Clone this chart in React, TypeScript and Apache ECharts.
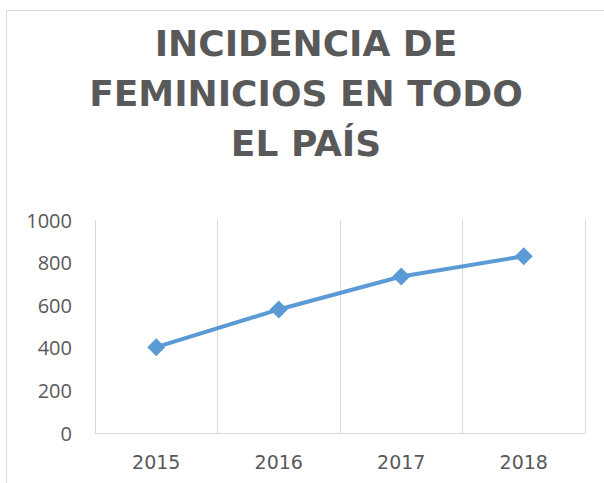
import React, { useEffect, useRef } from "react";
import * as echarts from "echarts";

const titleLines = ["INCIDENCIA DE", "FEMINICIOS EN TODO", "EL PAÍS"];
const categories = ["2015", "2016", "2017", "2018"];
const values = [403, 580, 735, 830];
const yTicks = { min: 0, max: 1000, interval: 200 };

export default function App() {
  const ref = useRef<HTMLDivElement>(null);
  useEffect(() => {
    document.body.style.margin = "0";
    const chart = echarts.init(ref.current!, undefined, { renderer: "svg" });
    chart.setOption({
      animation: false,
      backgroundColor: "#ffffff",
      title: {
        text: titleLines.join("\n"),
        left: 301,
        top: 13,
        textAlign: "center",
        textStyle: {
          fontFamily: "DejaVu Sans",
          fontWeight: "bold",
          fontSize: 36,
          lineHeight: 50,
          color: "#595959",
        },
      },
      graphic: [
        {
          type: "rect",
          shape: { x: 6.5, y: 10.5, width: 800, height: 800 },
          style: { fill: "none", stroke: "#d9d9d9", lineWidth: 1 },
          silent: true,
          z: -1,
        },
      ],
      grid: { left: 95, right: 19, top: 220, bottom: 50 },
      xAxis: {
        type: "category",
        data: categories,
        boundaryGap: true,
        axisLine: { show: true, lineStyle: { color: "#d9d9d9", width: 1 } },
        axisTick: { show: false },
        splitLine: { show: true, lineStyle: { color: "#d9d9d9", width: 1 } },
        axisLabel: {
          fontFamily: "DejaVu Sans",
          fontSize: 19,
          color: "#595959",
          margin: 19,
        },
      },
      yAxis: {
        type: "value",
        min: yTicks.min,
        max: yTicks.max,
        interval: yTicks.interval,
        axisLine: { show: false },
        axisTick: { show: false },
        splitLine: { show: false },
        axisLabel: {
          fontFamily: "Open Sans",
          fontSize: 20,
          color: "#595959",
          margin: 23,
          formatter: (v: number) => String(v),
        },
      },
      series: [
        {
          type: "line",
          data: values,
          symbol: "diamond",
          symbolSize: 18,
          lineStyle: { color: "#5b9bd5", width: 4 },
          itemStyle: { color: "#5b9bd5" },
        },
      ],
    });
    return () => chart.dispose();
  }, []);
  return <div ref={ref} style={{ width: 604, height: 483 }} />;
}
